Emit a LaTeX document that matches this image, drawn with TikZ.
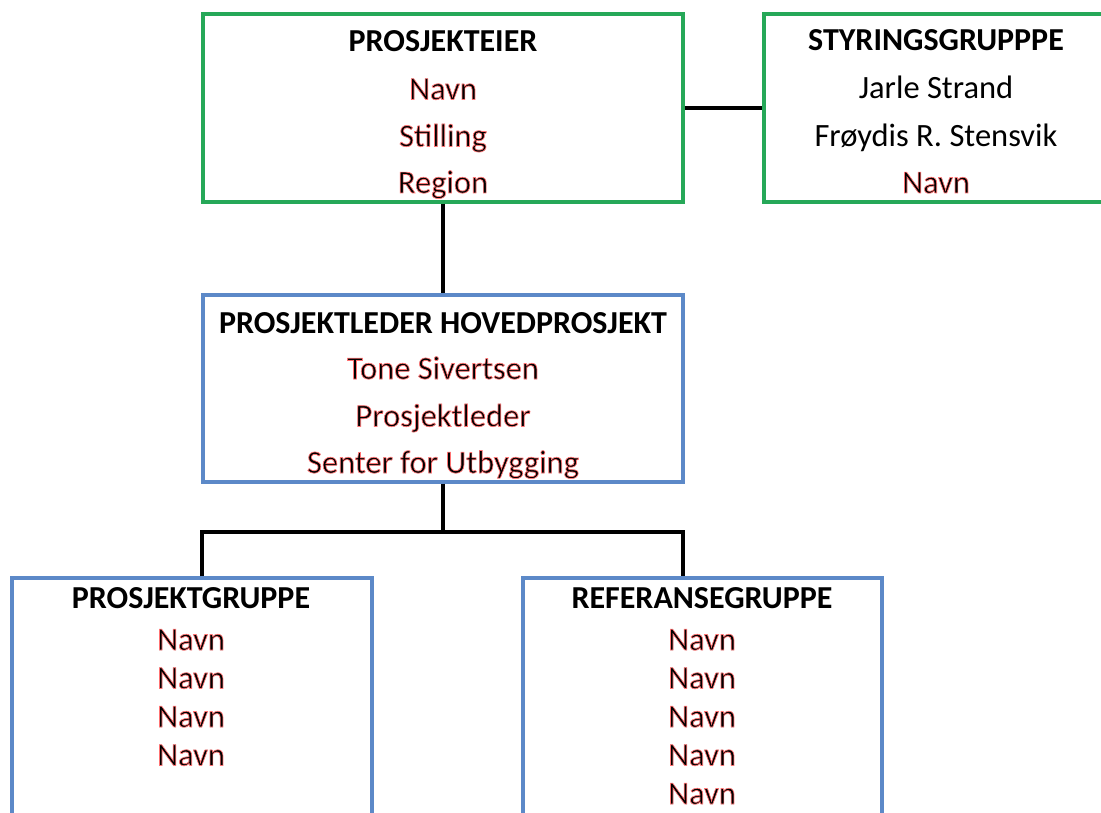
\documentclass[tikz,border=0pt]{standalone}
\usepackage{fontspec}
\setmainfont{Carlito}
\definecolor{boxgreen}{RGB}{38,168,88}
\definecolor{boxblue}{RGB}{92,137,200}
\newcommand\halo[1]{\special{pdf:literal direct q 2 Tr 0.7 w 1 0.45 0.45 RG}#1\special{pdf:literal direct Q}}
\tikzset{
  gbox/.style={draw=boxgreen, line width=3.4pt, rectangle, inner sep=0pt},
  bbox/.style={draw=boxblue, line width=3.4pt, rectangle, inner sep=0pt},
  hdr/.style={anchor=base, inner sep=0pt, font=\fontsize{32}{38}\selectfont\bfseries},
  txt/.style={anchor=base, inner sep=0pt, font=\fontsize{32.5}{38}\selectfont},
  conn/.style={draw=black, line width=3.4pt}
}
\begin{document}
\begin{tikzpicture}[x=1pt,y=-1pt]
\useasboundingbox (0,0) rectangle (1101,813);
\fill[white] (0,0) rectangle (1101,813);
\clip (0,0) rectangle (1101,813);
% boxes
\node[gbox, minimum width=480pt, minimum height=188pt] (pe) at (443,108) {};
\node[gbox, minimum width=360pt, minimum height=188pt] (sg) at (944,108) {};
\node[bbox, minimum width=480pt, minimum height=187pt] (pl) at (443,388.5) {};
\node[bbox, minimum width=360pt, minimum height=300pt] (pg) at (192,728) {};
\node[bbox, minimum width=359pt, minimum height=300pt] (rg) at (702.5,728) {};
% connectors
\draw[conn] (pe.east) -- (sg.west);
\draw[conn] (pe.south) -- (pl.north);
\coordinate (j) at (443,532);
\draw[conn] (pl.south) -- (j);
\draw[conn] (pg.north -| 202,0) |- (j) -| (rg.north -| 683,0);
% PROSJEKTEIER
\node[hdr] (pe0) at (443,52) {PROSJEKTEIER};
\node[txt] (pe1) at (443,99.5) {\halo{Navn}};
\node[txt] (pe2) at (443,146.5) {\halo{Stilling}};
\node[txt] (pe3) at (443,193) {\halo{Region}};
% STYRINGSGRUPPPE
\node[hdr] (sg0) at (936,51) {STYRINGSGRUPPPE};
\node[txt] (sg1) at (936,98.5) {Jarle Strand};
\node[txt] (sg2) at (936,146.5) {Frøydis R. Stensvik};
\node[txt] (sg3) at (936,193) {\halo{Navn}};
% PROSJEKTLEDER
\node[hdr] (pl0) at (443,333) {PROSJEKTLEDER HOVEDPROSJEKT};
\node[txt] (pl1) at (443,379) {\halo{Tone Sivertsen}};
\node[txt] (pl2) at (443,426.5) {\halo{Prosjektleder}};
\node[txt] (pl3) at (443,473) {\halo{Senter for Utbygging}};
% PROSJEKTGRUPPE
\node[hdr] (pg0) at (191,608) {PROSJEKTGRUPPE};
\node[txt] (pg1) at (191,650) {\halo{Navn}};
\node[txt] (pg2) at (191,688.5) {\halo{Navn}};
\node[txt] (pg3) at (191,727) {\halo{Navn}};
\node[txt] (pg4) at (191,765.5) {\halo{Navn}};
% REFERANSEGRUPPE
\node[hdr] (rg0) at (702,608) {REFERANSEGRUPPE};
\node[txt] (rg1) at (702,650) {\halo{Navn}};
\node[txt] (rg2) at (702,688.5) {\halo{Navn}};
\node[txt] (rg3) at (702,727) {\halo{Navn}};
\node[txt] (rg4) at (702,765.5) {\halo{Navn}};
\node[txt] (rg5) at (702,804) {\halo{Navn}};
\end{tikzpicture}
\end{document}
